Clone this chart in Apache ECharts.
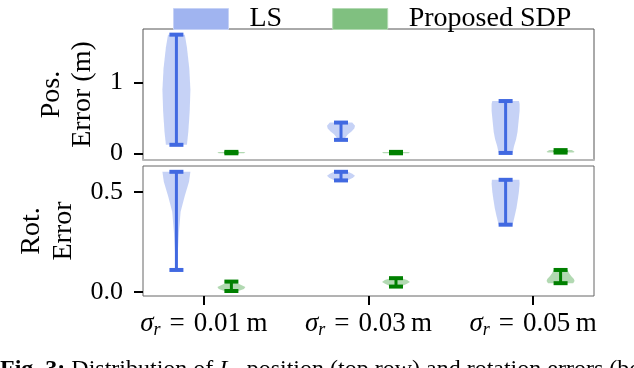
<!DOCTYPE html>
<html>
<head>
<meta charset="utf-8">
<script src="https://cdn.jsdelivr.net/npm/echarts@6/dist/echarts.min.js"></script>
<style>
  html, body { margin: 0; padding: 0; background: #fff; }
  #chart { width: 634px; height: 368px; }
</style>
</head>
<body>
<div id="chart"></div>
<script>
// noise levels (x groups)
const sigmaLabels = ['0.01', '0.03', '0.05']
const groupPositions = [0, 1, 2]
const seriesNames = ['LS', 'Proposed SDP']

// position error (m) - whisker extremes
const lsPosMin = [0.12, 0.19, 0.005]
const lsPosMax = [1.68, 0.435, 0.74]
const sdpPosMin = [0.0, 0.0, 0.01]
const sdpPosMax = [0.02, 0.02, 0.045]

// rotation error - whisker extremes
const lsRotMin = [0.11, 0.557, 0.336]
const lsRotMax = [0.60, 0.60, 0.56]
const sdpRotMin = [0.005, 0.027, 0.044]
const sdpRotMax = [0.052, 0.069, 0.11]

// violin profiles: error levels and relative density at each level
const lsPosLevels = [
  [0.12, 0.3, 0.6, 0.9, 1.2, 1.5, 1.68],
  [0.19, 0.23, 0.27, 0.31, 0.35, 0.39, 0.435],
  [0.005, 0.1, 0.2, 0.3, 0.4, 0.5, 0.6, 0.7, 0.74]
]
const lsPosDensity = [
  [0.75, 0.85, 0.95, 1.0, 0.92, 0.75, 0.6],
  [0.2, 0.35, 0.5, 0.75, 0.95, 1.0, 0.8],
  [0.5, 0.6, 0.75, 0.85, 0.9, 0.95, 1.0, 1.0, 0.95]
]
const sdpPosLevels = [
  [0.0, 0.01, 0.02],
  [0.0, 0.01, 0.02],
  [0.01, 0.02, 0.03, 0.045]
]
const sdpPosDensity = [
  [0.9, 1.0, 0.9],
  [0.9, 1.0, 0.9],
  [0.9, 1.0, 0.95, 0.8]
]
const lsRotLevels = [
  [0.11, 0.2, 0.3, 0.4, 0.48, 0.55, 0.60],
  [0.557, 0.57, 0.58, 0.59, 0.60],
  [0.336, 0.38, 0.42, 0.46, 0.5, 0.54, 0.56]
]
const lsRotDensity = [
  [0.08, 0.1, 0.18, 0.3, 0.6, 0.9, 1.0],
  [0.45, 0.85, 1.0, 0.8, 0.5],
  [0.5, 0.65, 0.78, 0.87, 0.95, 1.0, 0.98]
]
const sdpRotLevels = [
  [0.005, 0.015, 0.025, 0.035, 0.045, 0.052],
  [0.027, 0.04, 0.05, 0.06, 0.069],
  [0.044, 0.055, 0.065, 0.08, 0.095, 0.11]
]
const sdpRotDensity = [
  [0.5, 0.9, 1.0, 0.7, 0.4, 0.3],
  [0.35, 0.75, 1.0, 0.8, 0.4],
  [0.9, 1.0, 0.95, 0.75, 0.6, 0.5]
]

const posTicks = [0, 1]
const rotTicks = [0, 0.5]

const BLUE = '#4169e1'
const GREEN = '#008000'
const FONT = 'Liberation Serif'

function violinSeries(name, gridIdx, offset, mins, maxs, levels, density, lineColor, fillColor) {
  return {
    name,
    type: 'custom',
    xAxisIndex: gridIdx,
    yAxisIndex: gridIdx,
    clip: false,
    data: groupPositions.map((g, i) => [g + offset, mins[i], maxs[i]]),
    renderItem: (params, api) => {
      const i = params.dataIndex
      const x = api.value(0)
      const half = 14
      const left = []
      const right = []
      levels[i].forEach((v, k) => {
        const p = api.coord([x, v])
        left.push([p[0] - density[i][k] * half, p[1]])
        right.push([p[0] + density[i][k] * half, p[1]])
      })
      const pts = left.concat(right.reverse())
      const lo = api.coord([x, api.value(1)])
      const hi = api.coord([x, api.value(2)])
      const cap = 7
      return {
        type: 'group',
        children: [
          { type: 'polygon', shape: { points: pts }, style: { fill: fillColor } },
          { type: 'line', shape: { x1: lo[0], y1: lo[1], x2: hi[0], y2: hi[1] }, style: { stroke: lineColor, lineWidth: 3 } },
          { type: 'line', shape: { x1: lo[0] - cap, y1: lo[1], x2: lo[0] + cap, y2: lo[1] }, style: { stroke: lineColor, lineWidth: 4 } },
          { type: 'line', shape: { x1: hi[0] - cap, y1: hi[1], x2: hi[0] + cap, y2: hi[1] }, style: { stroke: lineColor, lineWidth: 4 } }
        ]
      }
    }
  }
}

const labelStyle = { fontFamily: FONT, fontSize: 26, color: '#000' }

function xLabel(v) {
  const s = sigmaLabels[Math.round(v)]
  return '{a|σ}{r|r}{b|\u2004=\u2004' + s + '\u2009m}'
}

const chart = echarts.init(document.getElementById('chart'), null, { renderer: 'canvas' })

const option = {
  animation: false,
  backgroundColor: '#fff',
  legend: {
    left: 168,
    top: 0,
    itemWidth: 55,
    itemHeight: 21,
    itemGap: 50,
    icon: 'rect',
    selectedMode: false,
    textStyle: { fontFamily: FONT, fontSize: 28, color: '#000', padding: [0, 0, 0, 16] },
    data: [
      { name: seriesNames[0], itemStyle: { color: '#a0b4f0', borderColor: '#c6d2f6', borderWidth: 1 } },
      { name: seriesNames[1], itemStyle: { color: '#80c080', borderColor: '#b3d9b3', borderWidth: 1 } }
    ]
  },
  grid: [
    { left: 143, top: 29, width: 451, height: 131, show: true, borderColor: '#555', borderWidth: 1 },
    { left: 143, top: 166, width: 451, height: 130, show: true, borderColor: '#666', borderWidth: 1 }
  ],
  xAxis: [
    {
      gridIndex: 0, type: 'value', min: -0.37, max: 2.37,
      axisLine: { show: true, onZero: false, lineStyle: { color: '#b8b8b8', width: 2 } },
      axisTick: { show: false }, axisLabel: { show: false }, splitLine: { show: false }
    },
    {
      gridIndex: 1, type: 'value', min: -0.37, max: 2.37,
      axisLine: { show: false, onZero: false },
      axisTick: { show: true, customValues: groupPositions, length: 9, lineStyle: { color: '#000', width: 2 } },
      axisLabel: {
        show: true, customValues: groupPositions, margin: 13,
        formatter: xLabel,
        rich: {
          a: { fontFamily: FONT, fontSize: 27, fontStyle: 'italic', color: '#000', lineHeight: 30 },
          r: { fontFamily: FONT, fontSize: 18, fontStyle: 'italic', color: '#000', lineHeight: 16, verticalAlign: 'bottom' },
          b: { fontFamily: FONT, fontSize: 27, color: '#000', lineHeight: 30 }
        }
      },
      splitLine: { show: false }
    }
  ],
  yAxis: [
    {
      gridIndex: 0, type: 'value', min: -0.095, max: 1.76,
      name: 'Pos.\nError (m)', nameLocation: 'middle', nameRotate: 90, nameGap: 45,
      nameTextStyle: { fontFamily: FONT, fontSize: 28, color: '#000', lineHeight: 31 },
      axisLine: { show: false, onZero: false },
      axisTick: { show: true, customValues: posTicks, length: 9, lineStyle: { color: '#000', width: 2 } },
      axisLabel: { show: true, customValues: posTicks, margin: 20, formatter: v => String(Math.round(v)), ...labelStyle },
      splitLine: { show: false }
    },
    {
      gridIndex: 1, type: 'value', min: -0.02, max: 0.629,
      name: 'Rot.\nError', nameLocation: 'middle', nameRotate: 90, nameGap: 55,
      nameTextStyle: { fontFamily: FONT, fontSize: 28, color: '#000', lineHeight: 32 },
      axisLine: { show: false, onZero: false },
      axisTick: { show: true, customValues: rotTicks, length: 9, lineStyle: { color: '#000', width: 2 } },
      axisLabel: { show: true, customValues: rotTicks, margin: 20, formatter: v => v.toFixed(1), ...labelStyle },
      splitLine: { show: false }
    }
  ],
  graphic: [
    {
      type: 'text', left: 0, top: 358, silent: true,
      style: {
        text: '{bf|Fig. 3:} {n|Distribution of }{i|L}{s|2}{n| position (top row) and rotation errors (bo}',
        fontFamily: FONT, fontSize: 24, fill: '#000',
        rich: {
          bf: { fontFamily: FONT, fontSize: 24, fontWeight: 'bold', lineHeight: 26 },
          n: { fontFamily: FONT, fontSize: 24, lineHeight: 26 },
          i: { fontFamily: FONT, fontSize: 24, fontStyle: 'italic', lineHeight: 26 },
          s: { fontFamily: FONT, fontSize: 16, lineHeight: 14, verticalAlign: 'bottom' }
        }
      }
    }
  ],
  series: [
    violinSeries(seriesNames[0], 0, -0.167, lsPosMin, lsPosMax, lsPosLevels, lsPosDensity, BLUE, 'rgba(65,105,225,0.3)'),
    violinSeries(seriesNames[1], 0, 0.167, sdpPosMin, sdpPosMax, sdpPosLevels, sdpPosDensity, GREEN, 'rgba(0,128,0,0.3)'),
    violinSeries(seriesNames[0], 1, -0.167, lsRotMin, lsRotMax, lsRotLevels, lsRotDensity, BLUE, 'rgba(65,105,225,0.3)'),
    violinSeries(seriesNames[1], 1, 0.167, sdpRotMin, sdpRotMax, sdpRotLevels, sdpRotDensity, GREEN, 'rgba(0,128,0,0.3)')
  ]
}

chart.setOption(option)
</script>
</body>
</html>
